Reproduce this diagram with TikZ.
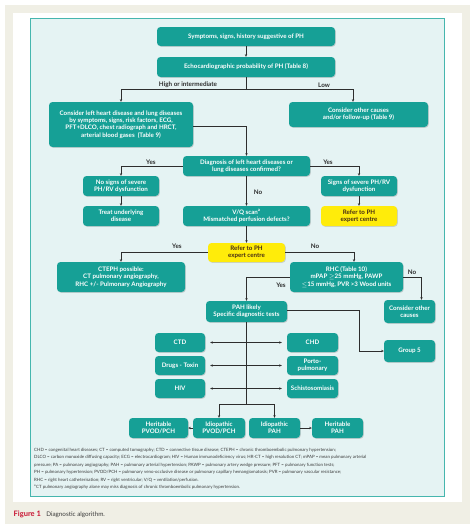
\documentclass[tikz,border=0pt]{standalone}
\usepackage{fontspec}
\setmainfont{Lato}
\usetikzlibrary{shadows,arrows.meta}
\definecolor{beige}{RGB}{240,239,229}
\definecolor{diagfill}{RGB}{229,243,243}
\definecolor{diagborder}{RGB}{70,182,174}
\definecolor{teal1}{RGB}{22,160,150}
\definecolor{yell}{RGB}{255,236,10}
\definecolor{ytext}{RGB}{70,45,20}
\definecolor{linec}{RGB}{45,45,45}
\definecolor{legc}{RGB}{60,60,60}
\definecolor{capred}{RGB}{200,20,50}
\begin{document}
\begin{tikzpicture}[x=1pt,y=-1pt,
  box/.style={fill=teal1, rounded corners=3.5pt, text=white,
    font=\bfseries\fontsize{6.2}{7.3}\selectfont, align=center, inner sep=0.5pt,
    drop shadow={opacity=0.3, shadow xshift=0.8pt, shadow yshift=-0.8pt}},
  ybox/.style={box, fill=yell, text=ytext},
  lbl/.style={font=\bfseries\fontsize{6.3}{7}\selectfont, text=linec, inner sep=0pt},
  conn/.style={draw=linec, line width=0.55pt, -{Stealth[length=2.6pt,width=2.3pt]}},
  dconn/.style={draw=linec, line width=0.55pt, {Stealth[length=2.6pt,width=2.3pt]}-{Stealth[length=2.6pt,width=2.3pt]}, shorten <=5pt, shorten >=5pt},
  plain/.style={draw=linec, line width=0.55pt}]
\useasboundingbox (0,0) rectangle (474,531);
\fill[white] (0,0) rectangle (474,531);
\fill[beige] (5,5) rectangle (470,524);
\fill[white] (13,13) rectangle (462,502);
\draw[diagborder, fill=diagfill, line width=0.7pt] (30,18) rectangle (444,496);

% nodes
\node[box, minimum width=178pt, minimum height=19pt] (sym) at (246,36.5) {Symptoms, signs, history suggestive of PH};
\node[box, minimum width=178pt, minimum height=20pt] (echo) at (246,67) {Echocardiographic probability of PH (Table 8)};
\node[box, minimum width=144pt, minimum height=45pt] (lhd) at (121,124.5) {Consider left heart disease and lung diseases\\ by symptoms, signs, risk factors, ECG,\\ PFT+DLCO, chest radiograph and HRCT,\\ arterial blood gases\ \ (Table 9)};
\node[box, minimum width=139pt, minimum height=25pt] (other1) at (358.5,114.5) {Consider other causes\\ and/or follow-up (Table 9)};
\node[box, minimum width=127pt, minimum height=20pt] (diag) at (246.5,166) {Diagnosis of left heart diseases or\\ lung diseases confirmed?};
\node[box, minimum width=76pt, minimum height=20pt] (nosev) at (121,186) {No signs of severe\\ PH/RV dysfunction};
\node[box, minimum width=76pt, minimum height=20pt] (treat) at (121,216) {Treat underlying\\ disease};
\node[box, minimum width=76pt, minimum height=20pt] (sev) at (359,186) {Signs of severe PH/RV\\ dysfunction};
\node[ybox, minimum width=76pt, minimum height=20pt] (refer1) at (359,216) {Refer to PH\\ expert centre};
\node[box, minimum width=127pt, minimum height=20pt] (vq) at (246.5,216) {V/Q scan\textsuperscript{a}\\ Mismatched perfusion defects?};
\node[ybox, minimum width=77pt, minimum height=19pt] (refer2) at (246.5,252.5) {Refer to PH\\ expert centre};
\node[box, minimum width=128pt, minimum height=30pt] (cteph) at (121,277) {CTEPH possible:\\ CT pulmonary angiography,\\ RHC +/- Pulmonary Angiography};
\node[box, minimum width=113pt, minimum height=30pt] (rhc) at (346.5,277) {RHC (Table 10)\\ mPAP $\geq$25 mmHg, PAWP\\ $\leq$15 mmHg, PVR >3 Wood units};
\node[box, minimum width=51pt, minimum height=23pt] (other2) at (409.5,311.5) {Consider other\\ causes};
\node[box, minimum width=81pt, minimum height=21pt] (pah) at (246.5,311.5) {PAH likely\\ Specific diagnostic tests};
\node[box, minimum width=51pt, minimum height=22pt] (group5) at (409.5,351) {Group 5};
\node[box, minimum width=50pt, minimum height=19pt] (ctd) at (180,342.5) {CTD};
\node[box, minimum width=51pt, minimum height=19pt] (chd) at (312.5,342.5) {CHD};
\node[box, minimum width=50pt, minimum height=19pt] (drugs) at (180,365.5) {Drugs - Toxin};
\node[box, minimum width=51pt, minimum height=19pt] (porto) at (312.5,365.5) {Porto-\\ pulmonary};
\node[box, minimum width=50pt, minimum height=19pt] (hiv) at (180,388.5) {HIV};
\node[box, minimum width=51pt, minimum height=19pt] (schisto) at (312.5,388.5) {Schistosomiasis};
\node[box, minimum width=59pt, minimum height=20pt] (hpvod) at (158.5,428) {Heritable\\ PVOD/PCH};
\node[box, minimum width=52pt, minimum height=20pt] (ipvod) at (219,428) {Idiopathic\\ PVOD/PCH};
\node[box, minimum width=51pt, minimum height=20pt] (ipah) at (274.5,428) {Idiopathic\\ PAH};
\node[box, minimum width=51pt, minimum height=20pt] (hpah) at (337.5,428) {Heritable\\ PAH};

% connectors
\draw[conn] (sym) -- (echo);
\coordinate (split1) at (246,89);
\draw[plain] (echo.south) -- (split1);
\draw[conn] (split1) -| (lhd.north);
\draw[conn] (split1) -| ([xshift=-5.5pt]other1.north);
\draw[conn] ([yshift=-1.5pt]lhd.east) -| (diag.north);
\draw[conn] (diag.west) -| (nosev.north);
\draw[conn] (diag.east) -| (sev.north);
\draw[conn] (diag.south) -- (vq.north);
\draw[conn] (nosev) -- (treat);
\draw[conn] (sev) -- (refer1);
\draw[conn] (vq) -- (refer2);
\draw[conn] (refer2.west) -| (cteph.north);
\draw[conn] (refer2.east) -| ([xshift=7.5pt]rhc.north);
\draw[conn] (rhc.east) -| ([xshift=12pt]other2.north);
\draw[conn] (rhc.west) -| (pah.north);
\coordinate (g5turn) at (359,351);
\draw[conn] ([yshift=1.5pt]pah.east) -| (g5turn) -- (group5.west);
\coordinate (trunk) at (246.5,404);
\coordinate (tl) at (219,404);
\coordinate (tr) at (274.5,404);
\draw[plain] (pah.south) -- (trunk);
\draw[plain] (tl) -- (tr);
\draw[conn] (tl) -- (ipvod.north);
\draw[conn] (tr) -- (ipah.north);
\draw[conn] (ipvod) -- (hpvod);
\draw[conn] (ipah) -- (hpah);
\draw[dconn] (ctd) -- (chd);
\draw[dconn] (drugs) -- (porto);
\draw[dconn] (hiv) -- (schisto);

% labels
\node[lbl] (lhigh) at (188,85) {High or intermediate};
\node[lbl] (llow) at (324,85) {Low};
\node[lbl] (lyes1) at (151,162) {Yes};
\node[lbl] (lyes2) at (328,162) {Yes};
\node[lbl] (lno1) at (258,192) {No};
\node[lbl] (lyes3) at (177,246) {Yes};
\node[lbl] (lno2) at (315,246) {No};
\node[lbl] (lno3) at (412,272) {No};
\node[lbl] (lyes4) at (281,285) {Yes};

% legend
\node[anchor=north west, inner sep=0pt, align=left, text=legc,
  font=\fontsize{4.4}{7.55}\selectfont] (legend) at (34,447.8) {CHD = congenital heart diseases; CT = computed tomography; CTD = connective tissue disease; CTEPH = chronic thromboembolic pulmonary hypertension;\\
DLCO = carbon monoxide diffusing capacity; ECG = electrocardiogram; HIV = Human immunodeficiency virus; HR-CT = high resolution CT; mPAP = mean pulmonary arterial\\
pressure; PA = pulmonary angiography; PAH = pulmonary arterial hypertension; PAWP = pulmonary artery wedge pressure; PFT = pulmonary function tests;\\
PH = pulmonary hypertension; PVOD/PCH = pulmonary veno-occlusive disease or pulmonary capillary hemangiomatosis; PVR = pulmonary vascular resistance;\\
RHC = right heart catheterisation; RV = right ventricular; V/Q = ventilation/perfusion.\\
\textsuperscript{a}CT pulmonary angiography alone may miss diagnosis of chronic thromboembolic pulmonary hypertension.};

% caption
\node[anchor=base west, inner sep=0pt, text=capred, font=\bfseries\fontsize{7.5}{8}\selectfont] (figlab) at (13.5,516.5) {Figure 1};
\node[anchor=base west, inner sep=0pt, text=legc, font=\fontsize{6.3}{8}\selectfont] (figcap) at ([xshift=5pt]figlab.base east) {Diagnostic algorithm.};
\end{tikzpicture}
\end{document}
